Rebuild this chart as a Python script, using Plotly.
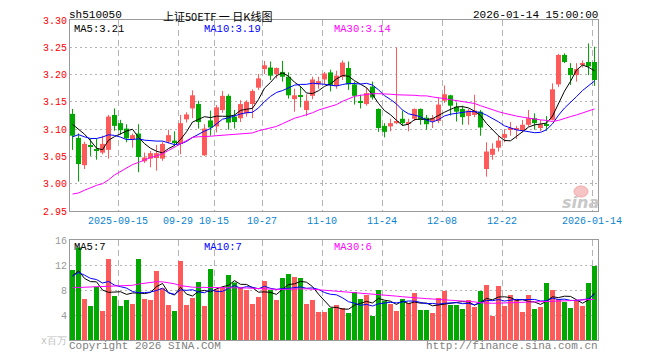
import plotly.graph_objects as go
import pandas as pd

# ---------------- data ----------------
month_days = {
    "2025-09": [3, 4, 5, 8, 9, 10, 11, 12, 15, 16, 17, 18, 19, 22, 23, 24, 25, 26, 29, 30],
    "2025-10": [9, 10, 13, 14, 15, 16, 17, 20, 21, 22, 23, 24, 27, 28, 29, 30, 31],
    "2025-11": [3, 4, 5, 6, 7, 10, 11, 12, 13, 14, 17, 18, 19, 20, 21, 24, 25, 26, 27, 28],
    "2025-12": [1, 2, 3, 4, 5, 8, 9, 10, 11, 12, 15, 16, 17, 18, 19, 22, 23, 24, 25, 26, 29, 30, 31],
    "2026-01": [5, 6, 7, 8, 9, 12, 13, 14],
}
dates = [f"{m}-{d:02d}" for m, days in month_days.items() for d in days]

open_ = [3.128, 3.084, 3.034, 3.071, 3.063, 3.057, 3.062, 3.126, 3.111, 3.101,
         3.082, 3.092, 3.041, 3.046, 3.047, 3.046, 3.077, 3.079, 3.073, 3.118,
         3.138, 3.146, 3.052, 3.116, 3.105, 3.135, 3.161, 3.123, 3.120, 3.129,
         3.146, 3.176, 3.210, 3.213, 3.201, 3.205, 3.196, 3.155, 3.162, 3.135,
         3.161, 3.182, 3.191, 3.204, 3.179, 3.196, 3.212, 3.182, 3.151, 3.146,
         3.178, 3.137, 3.106, 3.105, 3.111, 3.119, 3.111, 3.119, 3.137, 3.121,
         3.115, 3.115, 3.152, 3.162, 3.141, 3.137, 3.124, 3.126, 3.132, 3.027,
         3.053, 3.066, 3.084, 3.099, 3.099, 3.097, 3.108, 3.120, 3.102, 3.109,
         3.117, 3.182, 3.236, 3.212, 3.199, 3.218, 3.223, 3.223]
high = [3.137, 3.092, 3.077, 3.083, 3.083, 3.088, 3.126, 3.138, 3.117, 3.109,
        3.092, 3.109, 3.057, 3.060, 3.071, 3.077, 3.099, 3.096, 3.126, 3.131,
        3.171, 3.152, 3.109, 3.134, 3.144, 3.170, 3.164, 3.135, 3.153, 3.153,
        3.173, 3.201, 3.225, 3.224, 3.213, 3.225, 3.204, 3.174, 3.179, 3.164,
        3.196, 3.196, 3.205, 3.209, 3.207, 3.226, 3.224, 3.187, 3.163, 3.176,
        3.187, 3.138, 3.111, 3.119, 3.250, 3.134, 3.119, 3.138, 3.138, 3.126,
        3.126, 3.157, 3.180, 3.163, 3.149, 3.143, 3.137, 3.163, 3.135, 3.076,
        3.074, 3.088, 3.100, 3.113, 3.106, 3.117, 3.135, 3.129, 3.117, 3.124,
        3.184, 3.238, 3.239, 3.221, 3.221, 3.226, 3.257, 3.251]
low = [3.062, 3.004, 3.027, 3.051, 3.044, 3.054, 3.046, 3.097, 3.090, 3.076,
       3.066, 3.021, 3.038, 3.030, 3.024, 3.042, 3.074, 3.069, 3.054, 3.112,
       3.120, 3.101, 3.051, 3.088, 3.094, 3.130, 3.099, 3.101, 3.113, 3.123,
       3.120, 3.172, 3.201, 3.190, 3.193, 3.187, 3.156, 3.132, 3.140, 3.124,
       3.155, 3.174, 3.182, 3.169, 3.174, 3.190, 3.172, 3.145, 3.138, 3.143,
       3.154, 3.095, 3.085, 3.096, 3.109, 3.106, 3.096, 3.115, 3.108, 3.099,
       3.102, 3.111, 3.148, 3.125, 3.114, 3.108, 3.108, 3.122, 3.088, 3.013,
       3.044, 3.059, 3.076, 3.088, 3.082, 3.094, 3.105, 3.099, 3.096, 3.097,
       3.116, 3.177, 3.221, 3.181, 3.187, 3.213, 3.199, 3.179]
close = [3.088, 3.036, 3.073, 3.069, 3.060, 3.073, 3.123, 3.106, 3.098, 3.083,
         3.089, 3.049, 3.048, 3.056, 3.056, 3.073, 3.089, 3.076, 3.111, 3.127,
         3.162, 3.113, 3.101, 3.103, 3.140, 3.161, 3.112, 3.113, 3.146, 3.150,
         3.170, 3.193, 3.217, 3.198, 3.212, 3.196, 3.162, 3.162, 3.159, 3.152,
         3.191, 3.188, 3.202, 3.181, 3.198, 3.222, 3.182, 3.161, 3.149, 3.166,
         3.158, 3.102, 3.095, 3.111, 3.115, 3.111, 3.113, 3.137, 3.117, 3.109,
         3.120, 3.145, 3.164, 3.143, 3.132, 3.122, 3.134, 3.134, 3.103, 3.059,
         3.064, 3.079, 3.091, 3.100, 3.100, 3.108, 3.120, 3.111, 3.109, 3.107,
         3.173, 3.236, 3.223, 3.199, 3.210, 3.220, 3.215, 3.190]
volume = [11.2, 14.8, 6.56, 5.44, 8.53, 4.64, 12.96, 7.04, 5.44, 6.4,
          5.76, 12.96, 6.56, 6.4, 11.04, 8.27, 5.6, 4.64, 12.64, 5.6,
          6.72, 9.28, 5.44, 11.36, 8.1, 8.43, 10.4, 9.2, 8.43, 8.0,
          5.76, 6.88, 9.44, 8.0, 6.4, 9.92, 10.56, 10.08, 9.92, 5.76,
          6.4, 4.48, 4.48, 5.12, 5.6, 5.12, 4.32, 7.68, 6.56, 7.2,
          3.84, 8.0, 6.24, 5.76, 4.64, 6.56, 5.92, 7.52, 4.8, 4.8,
          4.32, 6.72, 7.84, 5.6, 5.6, 4.96, 6.4, 5.28, 7.84, 8.8,
          3.84, 8.64, 5.44, 7.2, 6.56, 4.48, 7.2, 4.96, 5.28, 9.12,
          8.0, 6.56, 6.08, 5.12, 6.24, 5.44, 9.12, 11.84]
# sessions before the window (estimated so the averages start where the picture does)
prev_close = [2.996, 3.113, 3.099, 3.060, 3.047, 3.081, 3.118, 3.129, 3.128]
prev_volume = [9.2, 10.8, 10.6, 10.4, 10.2, 10.5, 12.8, 8.0, 8.7]
# 30-day averages as drawn
ma30_price = [2.981, 2.983, 2.988, 2.993, 2.997, 3.000, 3.007, 3.016, 3.022, 3.029,
              3.035, 3.039, 3.044, 3.048, 3.051, 3.055, 3.061, 3.067, 3.073, 3.080,
              3.085, 3.086, 3.086, 3.087, 3.088, 3.089, 3.090, 3.091, 3.092, 3.092,
              3.093, 3.097, 3.100, 3.102, 3.105, 3.110, 3.115, 3.120, 3.123, 3.126,
              3.130, 3.135, 3.138, 3.141, 3.145, 3.151, 3.156, 3.160, 3.162, 3.164,
              3.165, 3.165, 3.165, 3.164, 3.163, 3.163, 3.163, 3.162, 3.161, 3.161,
              3.159, 3.158, 3.156, 3.154, 3.152, 3.150, 3.149, 3.147, 3.143, 3.139,
              3.135, 3.132, 3.129, 3.126, 3.124, 3.122, 3.120, 3.118, 3.117, 3.116,
              3.114, 3.116, 3.120, 3.123, 3.126, 3.130, 3.134, 3.137]
ma30_volume = [8.37, 8.4, 8.42, 8.45, 8.48, 8.5, 8.53, 8.58, 8.63, 8.68,
               8.75, 8.95, 9.1, 9.25, 9.33, 9.3, 9.2, 9.0, 8.7, 8.55,
               8.45, 8.43, 8.43, 8.42, 8.4, 8.4, 8.38, 8.37, 8.35, 8.32,
               8.28, 8.22, 8.15, 8.1, 8.1, 8.1, 8.12, 8.2, 8.27, 8.2,
               8.12, 8.05, 7.95, 7.85, 7.78, 7.72, 7.65, 7.6, 7.5, 7.42,
               7.36, 7.3, 7.2, 7.12, 7.02, 6.92, 6.82, 6.72, 6.68, 6.62,
               6.56, 6.5, 6.45, 6.42, 6.38, 6.32, 6.26, 6.1, 5.95, 5.88,
               5.87, 5.9, 5.93, 5.96, 5.97, 6.0, 6.06, 6.05, 6.03, 6.1,
               6.15, 6.2, 6.24, 6.3, 6.38, 6.4, 6.42, 6.5]

tick_dates = ["2025-09-15", "2025-09-29", "2025-10-15", "2025-10-27", "2025-11-10",
              "2025-11-24", "2025-12-08", "2025-12-22", "2026-01-14"]
tick_text = ["2025-09-15", "09-29", "10-15", "10-27", "11-10",
             "11-24", "12-08", "12-22", "2026-01-14"]
price_ticks = [2.95, 3.00, 3.05, 3.10, 3.15, 3.20, 3.25, 3.30]
vol_ticks = [0, 4, 8, 12, 16]
vol_tick_text = ['<span style="color:#c0c0c0">x百万</span>', "4", "8", "12", "16"]

title_code = "sh510050"
title_name = "上证50ETF 一 日K线图"
title_time = "2026-01-14 15:00:00"
legend_price = ["MA5:3.21", "MA10:3.19", "MA30:3.14"]
legend_volume = ["MA5:7", "MA10:7", "MA30:6"]

# ---------------- styling ----------------
RED = "#ff5a5a"
GREEN = "#00a800"
MONO = "Liberation Mono, DejaVu Sans Mono, monospace"
GRID = "#b4b4b4"
FRAME = "#9a9a9a"

n = len(close)
xs = list(range(n))


def rolling(prev, vals, w):
    s = pd.Series(prev + vals).rolling(w).mean()
    return s.iloc[len(prev):].tolist()


ma5 = rolling(prev_close, close, 5)
ma10 = rolling(prev_close, close, 10)
vma5 = rolling(prev_volume, volume, 5)
vma10 = rolling(prev_volume, volume, 10)

up = [c >= o for o, c in zip(open_, close)]
colors = [RED if u else GREEN for u in up]

fig = go.Figure()

# wicks
for flag, col in ((True, RED), (False, GREEN)):
    wx, wy = [], []
    for i in xs:
        if up[i] == flag:
            wx += [i, i, None]
            wy += [low[i], high[i], None]
    fig.add_trace(go.Scatter(x=wx, y=wy, mode="lines", line=dict(color=col, width=1),
                             xaxis="x", yaxis="y", hoverinfo="skip"))

# bodies
fig.add_trace(go.Bar(
    x=xs,
    base=[min(o, c) for o, c in zip(open_, close)],
    y=[max(abs(c - o), 0.0018) for o, c in zip(open_, close)],
    width=5 / 6, marker=dict(color=colors, line=dict(width=0)),
    xaxis="x", yaxis="y"))

# moving averages on price
for vals, col in ((ma5, "#000000"), (ma10, "#0000ff"), (ma30_price, "#ff00ff")):
    fig.add_trace(go.Scatter(x=xs, y=vals, mode="lines", line=dict(color=col, width=1),
                             xaxis="x", yaxis="y"))

# volume
fig.add_trace(go.Bar(x=xs, y=volume, width=5 / 6,
                     marker=dict(color=colors, line=dict(width=0)),
                     xaxis="x2", yaxis="y2"))
for vals, col in ((vma5, "#000000"), (vma10, "#0000ff"), (ma30_volume, "#ff00ff")):
    fig.add_trace(go.Scatter(x=xs, y=vals, mode="lines", line=dict(color=col, width=1),
                             xaxis="x2", yaxis="y2"))

# ---------------- layout ----------------
# the page body adds an 8px margin, so the figure is 8px smaller than the window
OFF = 8
W, H = 660 - OFF, 360 - OFF
PL, PR, PT, PB = 70, 598, 20, 340          # plot area in window pixels
PW, PH = PR - PL, PB - PT
L, T = PL - OFF, PT - OFF
R, B = W - L - PW, H - T - PH


def px(x):
    return (x - PL) / PW


def py(y):
    return (PB - y) / PH


xrange_ = [-5 / 12, n - 5 / 12]
tickpos = [dates.index(d) - 5 / 12 for d in tick_dates]

common_x = dict(range=xrange_, tickvals=tickpos, showgrid=True, gridcolor=GRID,
                griddash="6px,4px", gridwidth=1, zeroline=False, showline=True,
                linecolor=FRAME, linewidth=1, mirror=True, ticks="", fixedrange=True)

fig.update_layout(
    width=W, height=H,
    margin=dict(l=L, r=R, t=T, b=B, autoexpand=False),
    paper_bgcolor="white", plot_bgcolor="white",
    showlegend=False, hovermode=False, barmode="overlay",
    xaxis=dict(**common_x, anchor="y", ticktext=tick_text,
               tickfont=dict(family=MONO, size=10, color="#0a84d0")),
    xaxis2=dict(**common_x, anchor="y2", ticktext=tick_text, showticklabels=False),
    yaxis=dict(domain=[py(211), 1], range=[2.95, 3.30],
               tickvals=price_ticks, ticktext=[f"{v:.2f}" for v in price_ticks],
               showgrid=True, gridcolor=GRID, griddash="2px,3px", zeroline=False,
               showline=True, linecolor=FRAME, mirror=True, ticks="",
               tickfont=dict(family=MONO, size=10, color="#ff0000")),
    yaxis2=dict(domain=[0, py(240)], range=[0, 16],
                tickvals=vol_ticks, ticktext=vol_tick_text,
                showgrid=True, gridcolor=GRID, griddash="2px,3px", zeroline=False,
                showline=True, linecolor=FRAME, mirror=True, ticks="",
                tickfont=dict(family=MONO, size=10, color="#999999")),
)


def ann(text, x, y, color, size=10, anchor="left", family=MONO, **font_extra):
    fig.add_annotation(text=text, x=px(x), y=py(y), xref="paper", yref="paper",
                       xanchor=anchor, yanchor="middle", showarrow=False, borderpad=0,
                       font=dict(family=family, size=size, color=color, **font_extra))


ann(title_code, 68, 14.5, "#000000", size=11)
ann(title_name, 217, 16.3, "#000000", size=11, anchor="center",
    family="Noto Sans CJK SC")
ann(title_time, 599, 14.5, "#000000", size=11, anchor="right")

for txt, x0, col in zip(legend_price, (73, 203, 333), ("#000000", "#0000ff", "#ff00ff")):
    ann(txt, x0, 29.5, col, size=10.5)
for txt, x0, col in zip(legend_volume, (73, 203, 333), ("#000000", "#0000ff", "#ff00ff")):
    ann(txt, x0, 247, col, size=10.5)

ann("Copyright 2026 SINA.COM", 68, 346, "#808080", size=11)
ann("http://finance.sina.com.cn", 599, 346, "#808080", size=11, anchor="right")

# sina watermark
fig.add_shape(type="circle", xref="paper", yref="paper",
              x0=px(574), x1=px(588), y0=py(197), y1=py(186),
              fillcolor="#f6c4c4", line=dict(color="#f0a8a8", width=1), layer="above")
ann("sina", 580, 202, "#c8c8c8", size=16, anchor="center",
    family="DejaVu Sans", style="italic", weight="bold")

fig.write_html("out.html")
